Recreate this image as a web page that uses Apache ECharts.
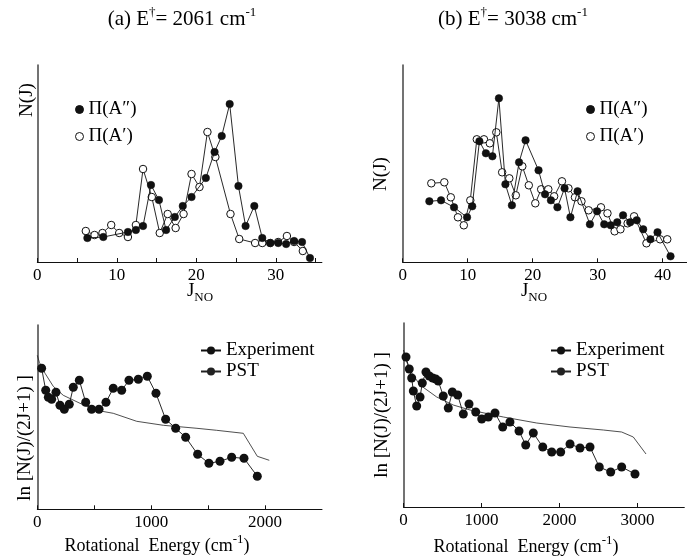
<!DOCTYPE html>
<html>
<head>
<meta charset="utf-8">
<script src="https://cdn.jsdelivr.net/npm/echarts@6/dist/echarts.min.js"></script>
<style>
  html, body { margin: 0; padding: 0; background: #fff; }
  #chart { width: 687px; height: 556px; }
</style>
</head>
<body>
<div id="chart"></div>
<script>
// (a) E = 2061 cm-1 : NO rotational state populations
const aFilledJ = [6.3, 8.3, 11.4, 12.4, 13.3, 14.3, 15.3, 16.2, 17.3, 18.3, 19.4, 21.2, 22.3, 23.2, 24.2, 25.3, 26.2, 27.3, 28.3, 29.3, 30.3, 31.3, 32.3, 33.3, 34.3];
const aFilledN = [24, 25, 30, 32, 36, 77, 62, 32, 45, 56, 65, 84, 110, 126, 158, 76, 36, 56, 24, 19, 19, 18, 21, 20, 4];
const aOpenJ = [6.1, 7.2, 8.2, 9.3, 10.3, 11.4, 12.4, 13.3, 14.4, 15.4, 16.4, 17.4, 18.4, 19.4, 20.4, 21.4, 22.4, 24.3, 25.4, 27.4, 28.3, 29.3, 30.3, 31.4, 32.3, 33.4];
const aOpenN = [31, 27, 29, 37, 29, 25, 37, 93, 65, 29, 48, 34, 48, 88, 75, 130, 105, 48, 23, 19, 19, 19, 20, 26, 20, 11];

// (b) E = 3038 cm-1
const bFilledJ = [4.1, 5.9, 7.9, 9.9, 10.7, 11.8, 12.8, 13.8, 14.8, 15.8, 16.8, 17.9, 18.9, 20.9, 21.9, 22.8, 23.8, 24.9, 25.8, 26.9, 28.8, 29.9, 31.0, 32.0, 33.0, 33.9, 35.0, 36.0, 37.0, 38.1, 39.2, 41.2];
const bFilledN = [61, 62, 55, 45, 56, 121, 109, 106, 164, 78, 57, 100, 122, 92, 68, 62, 55, 74, 45, 71, 38, 51, 38, 37, 40, 47, 40, 42, 33, 23, 30, 6];
const bOpenJ = [4.4, 6.4, 7.4, 8.5, 9.4, 10.4, 11.4, 12.5, 13.4, 14.4, 15.3, 16.4, 17.4, 18.4, 19.4, 20.4, 21.3, 22.4, 23.3, 24.5, 25.5, 26.5, 27.5, 28.6, 30.5, 31.5, 32.6, 33.5, 34.6, 35.6, 37.5, 39.6, 40.7];
const bOpenN = [79, 80, 65, 45, 37, 62, 123, 123, 119, 130, 90, 84, 67, 96, 77, 59, 73, 73, 66, 81, 74, 65, 61, 52, 55, 49, 31, 33, 39, 46, 19, 23, 23];

// ln[N(J)/(2J+1)] against rotational energy, experiment and phase space theory
const aExpE = [38, 74, 97, 126, 164, 199, 237, 281, 316, 369, 425, 477, 542, 603, 667, 741, 805, 887, 966, 1042, 1127, 1215, 1303, 1408, 1507, 1604, 1707, 1815, 1932];
const aExpL = [141, 119, 112, 110, 117, 104, 100, 105, 122, 129, 107, 100, 100, 107, 121, 119, 129, 130, 133, 116, 90, 81, 72, 55, 46, 48, 52, 51, 33];
const aPstE = [0, 18, 68, 140, 228, 375, 521, 667, 873, 1107, 1402, 1575, 1809, 1932, 2037];
const aPstL = [154, 147, 136, 123, 114, 106, 99, 96, 88, 84, 81, 79, 76, 53, 49];

const bExpE = [32, 74, 105, 126, 169, 212, 241, 288, 331, 374, 413, 446, 510, 574, 626, 695, 767, 840, 926, 1003, 1087, 1173, 1272, 1365, 1481, 1567, 1664, 1785, 1900, 2015, 2135, 2263, 2391, 2510, 2656, 2797, 2968];
const bExpL = [150, 138, 129, 116, 101, 110, 124, 135, 131, 129, 128, 126, 111, 99, 115, 112, 93, 103, 95, 88, 90, 94, 80, 85, 76, 62, 74, 60, 55, 55, 63, 59, 60, 40, 35, 40, 33];
const bPstE = [0, 41, 105, 212, 426, 638, 853, 1280, 1708, 2135, 2562, 2797, 2946, 3109];
const bPstL = [157, 145, 134, 122, 110, 102, 97, 90, 84, 80, 77, 75, 70, 53];

const FONT = '"Liberation Serif", "Times New Roman", serif';
const INK = '#111';

const zip = (xs, ys) => xs.map((x, i) => [x, ys[i]]);

const grids = [
  { left: 37.3, top: 65, width: 284.6, height: 197 },
  { left: 402.7, top: 65, width: 284, height: 197.3 },
  { left: 37.3, top: 325, width: 284.7, height: 184.3 },
  { left: 403.5, top: 323, width: 280.8, height: 184 }
];

function xAxisFor(idx, max, interval, labelStep, labelMax) {
  return {
    gridIndex: idx, type: 'value', min: 0, max: max, interval: interval,
    axisLine: { show: true, onZero: false, lineStyle: { color: INK, width: 1 } },
    axisTick: { show: true, inside: true, length: 4, lineStyle: { color: INK, width: 1 } },
    axisLabel: {
      show: true, margin: 5, color: '#000', fontFamily: FONT, fontSize: 17,
      showMaxLabel: false,
      formatter: v => (Math.abs(v % labelStep) < 1e-6 && v <= labelMax) ? String(v) : ''
    },
    splitLine: { show: false }
  };
}
function yAxisFor(idx, max) {
  return {
    gridIndex: idx, type: 'value', min: 0, max: max,
    axisLine: { show: true, lineStyle: { color: '#444', width: 1.5 } },
    axisTick: { show: false }, axisLabel: { show: false }, splitLine: { show: false }
  };
}

function filledSeries(name, idx, data) {
  return {
    name, type: 'line', xAxisIndex: idx, yAxisIndex: idx, data,
    symbol: 'circle', symbolSize: 7.5, showSymbol: true,
    itemStyle: { color: INK, borderColor: INK, borderWidth: 0.5 },
    lineStyle: { color: INK, width: 0.9 }, z: 3, animation: false
  };
}
function openSeries(name, idx, data) {
  return {
    name, type: 'line', xAxisIndex: idx, yAxisIndex: idx, data,
    symbol: 'circle', symbolSize: 7.5, showSymbol: true,
    itemStyle: { color: '#fff', borderColor: INK, borderWidth: 1 },
    lineStyle: { color: INK, width: 0.9 }, z: 2, animation: false
  };
}
function expSeries(idx, data) {
  return {
    name: 'Experiment', type: 'line', xAxisIndex: idx, yAxisIndex: idx, data,
    symbol: 'circle', symbolSize: 9, showSymbol: true,
    itemStyle: { color: INK },
    lineStyle: { color: INK, width: 0.9 }, z: 3, animation: false
  };
}
function pstSeries(idx, data) {
  return {
    name: 'PST', type: 'line', xAxisIndex: idx, yAxisIndex: idx, data,
    symbol: 'none', showSymbol: false,
    itemStyle: { color: '#222' },
    lineStyle: { color: '#222', width: 0.8 }, z: 2, animation: false
  };
}

const legendText = { fontFamily: FONT, fontSize: 19, color: '#000' };
function pointLegend(left, top, names) {
  return {
    data: names, orient: 'vertical', left, top, icon: 'circle',
    itemWidth: 8, itemHeight: 8, itemGap: 8, padding: 0,
    itemStyle: { borderWidth: 1 },
    textStyle: legendText, selectedMode: false
  };
}
function curveLegend(left, top) {
  return {
    data: ['Experiment', 'PST'], orient: 'vertical', left, top,
    itemWidth: 20, itemHeight: 10, itemGap: 2, padding: 0,
    textStyle: legendText, selectedMode: false
  };
}

const sup = { fontFamily: FONT, fontSize: 13, lineHeight: 11, verticalAlign: 'top', fill: '#000' };
const sub = { fontFamily: FONT, fontSize: 13, lineHeight: 11, verticalAlign: 'bottom', fill: '#000' };
const base = { fontFamily: FONT, fontSize: 18, lineHeight: 26, fill: '#000' };

function label(x, y, text, size, rotation) {
  return {
    type: 'text', x, y, rotation: rotation || 0, silent: true,
    style: {
      text, align: 'center', verticalAlign: 'middle',
      fontFamily: FONT, fontSize: size, fill: '#000',
      rich: { n: Object.assign({}, base, { fontSize: size }), sup, sub }
    }
  };
}

const chart = echarts.init(document.getElementById('chart'), null, { renderer: 'canvas' });
chart.setOption({
  backgroundColor: '#fff',
  animation: false,
  grid: grids,
  xAxis: [
    xAxisFor(0, 35.8, 5, 10, 30),
    xAxisFor(1, 43.69, 10, 10, 40),
    xAxisFor(2, 2500, 500, 1000, 2000),
    xAxisFor(3, 3600, 1000, 1000, 3000)
  ],
  yAxis: [yAxisFor(0, 197), yAxisFor(1, 197.3), yAxisFor(2, 184.3), yAxisFor(3, 184)],
  legend: [
    pointLegend(75, 100, ['Π(A″)', 'Π(A′)']),
    pointLegend(586, 100, ['Π(A″)', 'Π(A′)']),
    curveLegend(200, 341),
    curveLegend(550, 341)
  ],
  series: [
    openSeries('Π(A′)', 0, zip(aOpenJ, aOpenN)),
    filledSeries('Π(A″)', 0, zip(aFilledJ, aFilledN)),
    openSeries('Π(A′)', 1, zip(bOpenJ, bOpenN)),
    filledSeries('Π(A″)', 1, zip(bFilledJ, bFilledN)),
    pstSeries(2, zip(aPstE, aPstL)),
    expSeries(2, zip(aExpE, aExpL)),
    pstSeries(3, zip(bPstE, bPstL)),
    expSeries(3, zip(bExpE, bExpL))
  ],
  graphic: [
    label(182, 19, '{n|(a) E}{sup|†}{n|= 2061 cm}{sup|-1}', 21),
    label(513, 19, '{n|(b) E}{sup|†}{n|= 3038 cm}{sup|-1}', 21),
    label(200, 291, '{n|J}{sub|NO}', 19),
    label(534, 291, '{n|J}{sub|NO}', 19),
    label(157, 546, '{n|Rotational  Energy (cm}{sup|-1}{n|)}', 18),
    label(526, 547, '{n|Rotational  Energy (cm}{sup|-1}{n|)}', 18),
    label(27, 100, 'N(J)', 19, Math.PI / 2),
    label(381, 174, 'N(J)', 19, Math.PI / 2),
    label(25, 438, 'ln [N(J)/(2J+1) ]', 19, Math.PI / 2),
    label(382, 415, 'ln [N(J)/(2J+1) ]', 19, Math.PI / 2)
  ]
});
</script>
</body>
</html>
